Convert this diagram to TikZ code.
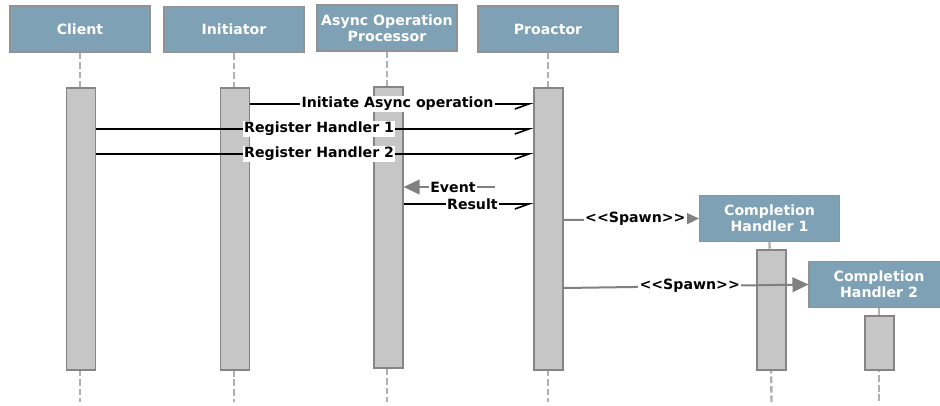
\documentclass[tikz,border=0pt]{standalone}
\usepackage{fontspec}
\setmainfont{DejaVu Sans}
\usetikzlibrary{arrows.meta,calc}
\definecolor{hdrfill}{HTML}{7FA1B5}
\definecolor{hdrline}{HTML}{929292}
\definecolor{actfill}{HTML}{C6C6C6}
\definecolor{actline}{HTML}{858585}
\definecolor{lifecol}{HTML}{B0B0B0}
\definecolor{graycol}{HTML}{808080}
\begin{document}
\begin{tikzpicture}[x=0.75pt,y=-0.75pt,
  hdr/.style={draw=hdrline,line width=0.8pt,fill=hdrfill,text=white,font=\fontsize{10.6pt}{12pt}\selectfont\bfseries,
    minimum width=105pt,minimum height=34.5pt,inner sep=0pt,align=center},
  act/.style={draw=actline,line width=0.9pt,fill=actfill,minimum width=21.75pt,inner sep=0pt},
  life/.style={draw=lifecol,line width=1.8pt,dash pattern=on 5pt off 2.2pt},
  msg/.style={draw=black,line width=1.5pt,-{Straight Barb[harpoon,swap,length=10.5pt,width=7.5pt,line width=1.2pt]}},
  gmsg/.style={draw=graycol,line width=1.5pt,-{Triangle[length=12pt,width=11pt]},graycol},
  lbl/.style={fill=white,inner sep=1pt,text=black,font=\fontsize{10.6pt}{12pt}\selectfont\bfseries},
]
\useasboundingbox (0,0) rectangle (940,405);
% headers
\node[hdr] (C) at (80,29) {Client};
\node[hdr] (I) at (234,29.5) {Initiator};
\node[hdr] (A) at (387,28) {Async Operation\\Processor};
\node[hdr] (P) at (548,29) {Proactor};
\node[hdr] (H1) at (769.5,218.5) {Completion\\Handler 1};
\node[hdr] (H2) at (879,284.5) {Completion\\Handler 2};
% lifeline ends
\coordinate (Ce) at (80,402);
\coordinate (Ie) at (234,402);
\coordinate (Ae) at (387,402);
\coordinate (Pe) at (548,402);
\coordinate (H1e) at (771.5,402);
\coordinate (H2e) at (879,402);
\draw[life] (C.south) -- (Ce);
\draw[life] (I.south) -- (Ie);
\draw[life] (A.south) -- (Ae);
\draw[life] (P.south) -- (Pe);
\draw[life] (H1.south) -- (H1e);
\draw[life] (H2.south) -- (H2e);
% activations
\node[act,minimum height=211.5pt] (aC) at (81,229) {};
\node[act,minimum height=211.5pt] (aI) at (235,229) {};
\node[act,minimum height=210.75pt] (aA) at (388.5,227.5) {};
\node[act,minimum height=211.5pt] (aP) at (548.5,229) {};
\node[act,minimum height=90pt] (aH1) at (771.5,310) {};
\node[act,minimum height=40.5pt] (aH2) at (879.5,343) {};
% message rows
\coordinate (y1) at (0,104);
\coordinate (y2) at (0,129);
\coordinate (y3) at (0,154);
\coordinate (y4) at (0,187);
\coordinate (y5) at (0,204);
\coordinate (y6) at (0,220);
\coordinate (y7) at (0,288);
\coordinate (evs) at (495,187);
\draw[msg] (aI.east |- y1) -- node[lbl,pos=0.52]{Initiate Async operation} (aP.west |- y1);
\draw[msg] (aC.east |- y2) -- node[lbl,pos=0.51]{Register Handler 1} (aP.west |- y2);
\draw[msg] (aC.east |- y3) -- node[lbl,pos=0.51]{Register Handler 2} (aP.west |- y3);
\draw[gmsg] (evs) -- node[lbl,pos=0.46]{Event} (aA.east |- y4);
\draw[msg] (aA.east |- y5) -- node[lbl,pos=0.53]{Result} (aP.west |- y5);
\draw[gmsg] (aP.east |- y6) -- node[lbl,pos=0.53]{<{}<Spawn>{}>} (H1.west);
\draw[gmsg] (aP.east |- y7) -- node[lbl,pos=0.515]{<{}<Spawn>{}>} (H2.west);
\end{tikzpicture}
\end{document}
